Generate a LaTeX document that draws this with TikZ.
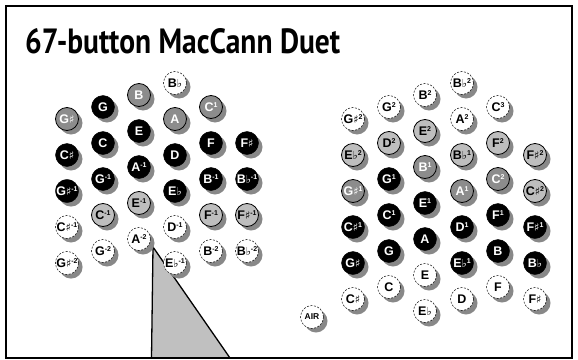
\documentclass[tikz,border=0pt]{standalone}
\usepackage{fontspec}
\setmainfont{Liberation Sans}
\newfontfamily\titlefont{PT Sans}
\newfontfamily\symfont{DejaVu Sans}
\usetikzlibrary{shadows}
\definecolor{shadowgrey}{HTML}{888888}
\definecolor{midgrey}{HTML}{8C8C8C}
\definecolor{lightgrey}{HTML}{BEBEBE}
\definecolor{trigrey}{HTML}{C0C0C0}
\newcommand\fl{{\mdseries\symfont\fontsize{11}{11}\selectfont ♭}}
\newcommand\sh{{\mdseries\symfont\fontsize{11}{11}\selectfont ♯}}
\newcommand\sups[1]{\raisebox{4.3pt}{\fontsize{7}{7}\selectfont #1}}
\newcommand\B[5]{\node[#1] (#2) at (#3,{83+12*#4}) {#5};}
\begin{document}
\begin{tikzpicture}[x=1pt,y=-1pt,
  btn/.style={circle, minimum size=23pt, inner sep=0pt,
    drop shadow={shadow xshift=4pt, shadow yshift=-4pt, fill=shadowgrey, opacity=1},
    font=\bfseries\fontsize{12.5}{13}\selectfont},
  bk/.style={btn, fill=black, draw=black, text=white},
  dg/.style={btn, fill=midgrey, draw=black, line width=0.8pt, text=white},
  lg/.style={btn, fill=lightgrey, draw=black, line width=0.8pt, text=black},
  ds/.style={btn, fill=white, draw=black, line width=0.5pt, dash pattern=on 2pt off 1.5pt, text=black},
  frame/.style={draw=black, line width=2pt},
  pointer/.style={fill=trigrey, draw=black, line width=1.3pt, line join=miter}]
\useasboundingbox (0,0) rectangle (578,359);
% pointer triangle
\coordinate (tA) at (153,247);
\coordinate (tB) at (151.5,358);
\coordinate (tC) at (230,358);
\path[pointer] (tA) -- (tB) -- (tC) -- cycle;
% left keyboard
\B{dg}{LGs}{67}{3}{G\sh}
\B{bk}{LCs}{67}{6}{C\sh}
\B{bk}{LGsm1}{67}{9}{G\sh\sups{-1}}
\B{ds}{LCsm1}{67}{12}{C\sh\sups{-1}}
\B{ds}{LGsm2}{67}{15}{G\sh\sups{-2}}
\B{bk}{LG}{103}{2}{G}
\B{bk}{LC}{103}{5}{C}
\B{bk}{LGm1}{103}{8}{G\sups{-1}}
\B{lg}{LCm1}{103}{11}{C\sups{-1}}
\B{ds}{LGm2}{103}{14}{G\sups{-2}}
\B{dg}{LB}{139}{1}{B}
\B{bk}{LE}{139}{4}{E}
\B{bk}{LAm1}{139}{7}{A\sups{-1}}
\B{lg}{LEm1}{139}{10}{E\sups{-1}}
\B{ds}{LAm2}{139}{13}{A\sups{-2}}
\B{ds}{LBb}{175}{0}{B\fl}
\B{dg}{LA}{175}{3}{A}
\B{bk}{LD}{175}{6}{D}
\B{bk}{LEb}{175}{9}{E\fl}
\B{ds}{LDm1}{175}{12}{D\sups{-1}}
\B{ds}{LEbm1}{175}{15}{E\fl\sups{-1}}
\B{dg}{LC1}{211}{2}{C\sups{1}}
\B{bk}{LF}{211}{5}{F}
\B{bk}{LBm1}{211}{8}{B\sups{-1}}
\B{lg}{LFm1}{211}{11}{F\sups{-1}}
\B{ds}{LBm2}{211}{14}{B\sups{-2}}
\B{bk}{LFs}{247}{5}{F\sh}
\B{bk}{LBbm1}{247}{8}{B\fl\sups{-1}}
\B{lg}{LFsm1}{247}{11}{F\sh\sups{-1}}
\B{ds}{LBbm2}{247}{14}{B\fl\sups{-2}}
% right keyboard
\B{ds}{RGs2}{353}{3}{G\sh\sups{2}}
\B{lg}{REb2}{353}{6}{E\fl\sups{2}}
\B{dg}{RGs1}{353}{9}{G\sh\sups{1}}
\B{bk}{RCs1}{353}{12}{C\sh\sups{1}}
\B{bk}{RGs}{353}{15}{G\sh}
\B{ds}{RCs}{353}{18}{C\sh}
\B{ds}{RG2}{389}{2}{G\sups{2}}
\B{lg}{RD2}{389}{5}{D\sups{2}}
\B{bk}{RG1}{389}{8}{G\sups{1}}
\B{bk}{RC1}{389}{11}{C\sups{1}}
\B{bk}{RG}{389}{14}{G}
\B{ds}{RC}{389}{17}{C}
\B{ds}{RB2}{425}{1}{B\sups{2}}
\B{lg}{RE2}{425}{4}{E\sups{2}}
\B{dg}{RB1}{425}{7}{B\sups{1}}
\B{bk}{RE1}{425}{10}{E\sups{1}}
\B{bk}{RA}{425}{13}{A}
\B{ds}{RE}{425}{16}{E}
\B{ds}{REb}{425}{19}{E\fl}
\B{ds}{RBb2}{462}{0}{B\fl\sups{2}}
\B{ds}{RA2}{462}{3}{A\sups{2}}
\B{lg}{RBb1}{462}{6}{B\fl\sups{1}}
\B{dg}{RA1}{462}{9}{A\sups{1}}
\B{bk}{RD1}{462}{12}{D\sups{1}}
\B{bk}{REb1}{462}{15}{E\fl\sups{1}}
\B{ds}{RD}{462}{18}{D}
\B{ds}{RC3}{498}{2}{C\sups{3}}
\B{lg}{RF2}{498}{5}{F\sups{2}}
\B{dg}{RC2}{498}{8}{C\sups{2}}
\B{bk}{RF1}{498}{11}{F\sups{1}}
\B{bk}{RB}{498}{14}{B}
\B{ds}{RF}{498}{17}{F}
\B{lg}{RFs2}{535}{6}{F\sh\sups{2}}
\B{lg}{RCs2}{535}{9}{C\sh\sups{2}}
\B{bk}{RFs1}{535}{12}{F\sh\sups{1}}
\B{bk}{RBb}{535}{15}{B\fl}
\B{ds}{RFs}{535}{18}{F\sh}
\node[ds, font=\bfseries\fontsize{8.5}{9}\selectfont] (AIR) at (312,317) {AIR};
% title and frame
\node[anchor=base west, inner sep=0pt, font=\titlefont\bfseries] (title) at (25,53)
  {\resizebox{315pt}{25pt}{67-button MacCann Duet}};
\path[frame] (6,6) rectangle (572,358);
\end{tikzpicture}
\end{document}
